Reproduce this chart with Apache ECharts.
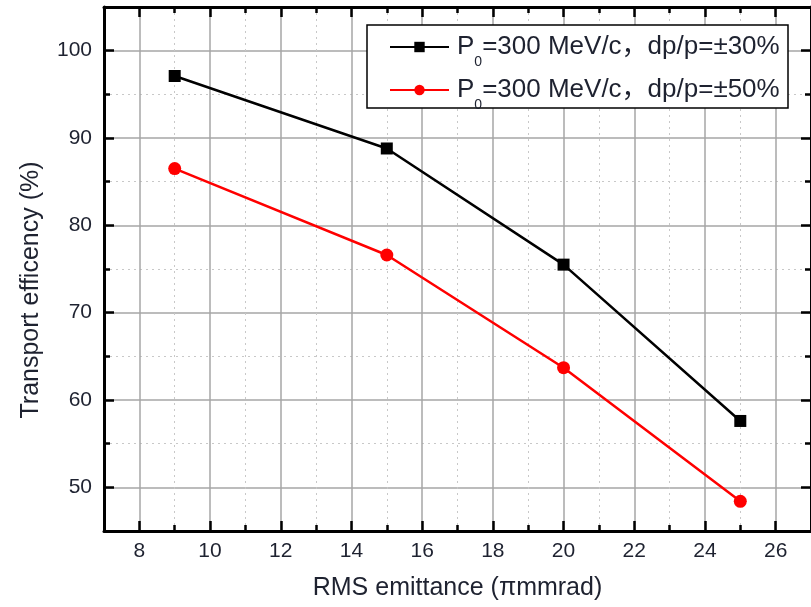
<!DOCTYPE html>
<html>
<head>
<meta charset="utf-8">
<script src="https://cdn.jsdelivr.net/npm/echarts@6/dist/echarts.min.js"></script>
<style>
  html, body { margin: 0; padding: 0; background: #fff; }
  #chart { width: 811px; height: 607px; }
</style>
</head>
<body>
<div id="chart"></div>
<script>
// Transport efficiency vs. RMS emittance for two momentum spreads
const emittance = [9, 15, 20, 25];
const eff30 = [97.1, 88.8, 75.5, 57.6];
const eff50 = [86.5, 76.6, 63.7, 48.4];

const xMajor = [8, 10, 12, 14, 16, 18, 20, 22, 24, 26];
const xMinor = [9, 11, 13, 15, 17, 19, 21, 23, 25];
const yMajor = [50, 60, 70, 80, 90, 100];
const yMinor = [55, 65, 75, 85, 95];

const seriesNames = ['P0 30', 'P0 50'];
const legendText = {
  'P0 30': '{a|P}{s|0}{a|=300 MeV/c，dp/p=±30%}',
  'P0 50': '{a|P}{s|0}{a|=300 MeV/c，dp/p=±50%}'
};

const FONT = '"Liberation Sans", Arial, "Noto Sans CJK SC", sans-serif';
const TEXT = '#1e2230';
const FRAME = { show: true, lineStyle: { color: '#000', width: 3 } };
const NOLINE = { show: false };

function ticks(values, len) {
  return {
    show: true, inside: true, length: len, customValues: values,
    lineStyle: { color: '#000', width: 2.5 }
  };
}

const majorSplit = { show: true, lineStyle: { color: '#a6a6a6', width: 1.5, type: 'solid' } };
const minorSplit = { show: true, lineStyle: { color: '#c8c8c8', width: 1, type: [2, 4] } };

const xBase = { type: 'value', min: 7, max: 27, gridIndex: 0 };
const yBase = { type: 'value', min: 45, max: 105, gridIndex: 0 };

const chart = echarts.init(document.getElementById('chart'), null, { renderer: 'canvas' });

chart.setOption({
  backgroundColor: '#fff',
  animation: false,
  grid: { left: 104, right: -3, top: 7, bottom: 76, containLabel: false },
  xAxis: [
    Object.assign({}, xBase, {
      position: 'bottom',
      axisLine: FRAME,
      axisTick: ticks(xMajor, 10),
      axisLabel: { show: true, customValues: xMajor, margin: 10, fontSize: 21, color: TEXT, fontFamily: FONT },
      splitLine: majorSplit,
      name: 'RMS emittance (πmmrad)',
      nameLocation: 'middle',
      nameGap: 45,
      nameTextStyle: { fontSize: 25, color: TEXT, fontFamily: FONT }
    }),
    Object.assign({}, xBase, {
      position: 'bottom',
      axisLine: NOLINE,
      axisTick: ticks(xMinor, 6),
      axisLabel: { show: false, customValues: xMinor },
      splitLine: minorSplit
    }),
    Object.assign({}, xBase, {
      position: 'top',
      axisLine: FRAME,
      axisTick: ticks(xMajor, 10),
      axisLabel: { show: false, customValues: xMajor },
      splitLine: { show: false }
    }),
    Object.assign({}, xBase, {
      position: 'top',
      axisLine: NOLINE,
      axisTick: ticks(xMinor, 6),
      axisLabel: { show: false, customValues: xMinor },
      splitLine: { show: false }
    })
  ],
  yAxis: [
    Object.assign({}, yBase, {
      position: 'left',
      axisLine: FRAME,
      axisTick: ticks(yMajor, 10),
      axisLabel: { show: true, customValues: yMajor, margin: 12, fontSize: 21, color: TEXT, fontFamily: FONT },
      splitLine: majorSplit,
      name: 'Transport efficency (%)',
      nameLocation: 'middle',
      nameGap: 60,
      nameTextStyle: { fontSize: 25, color: TEXT, fontFamily: FONT, padding: [0, 42, 0, 0] }
    }),
    Object.assign({}, yBase, {
      position: 'left',
      axisLine: NOLINE,
      axisTick: ticks(yMinor, 6),
      axisLabel: { show: false, customValues: yMinor },
      splitLine: minorSplit
    }),
    Object.assign({}, yBase, {
      position: 'right',
      axisLine: FRAME,
      axisTick: ticks(yMajor, 10),
      axisLabel: { show: false, customValues: yMajor },
      splitLine: { show: false }
    }),
    Object.assign({}, yBase, {
      position: 'right',
      axisLine: NOLINE,
      axisTick: ticks(yMinor, 6),
      axisLabel: { show: false, customValues: yMinor },
      splitLine: { show: false }
    })
  ],
  // legend frame
  graphic: [{
    type: 'rect',
    z: 3,
    shape: { x: 367, y: 25, width: 421, height: 83 },
    style: { fill: '#fff', stroke: '#000', lineWidth: 1.5 }
  }],
  legend: {
    orient: 'vertical',
    left: 389,
    top: 34,
    padding: 0,
    itemGap: 8,
    itemWidth: 59,
    itemHeight: 13,
    z: 5,
    data: seriesNames,
    formatter: function (name) { return legendText[name]; },
    textStyle: {
      color: TEXT,
      fontFamily: FONT,
      padding: [0, 0, 0, 3],
      rich: {
        a: { fontSize: 26, lineHeight: 44, color: TEXT, fontFamily: FONT },
        s: { fontSize: 14, lineHeight: 14, verticalAlign: 'bottom', color: TEXT, fontFamily: FONT }
      }
    }
  },
  series: [
    {
      name: seriesNames[0],
      type: 'line',
      xAxisIndex: 0,
      yAxisIndex: 0,
      data: emittance.map((x, i) => [x, eff30[i]]),
      symbol: 'rect',
      symbolSize: 12,
      lineStyle: { color: '#000', width: 2.5 },
      itemStyle: { color: '#000' },
      z: 4
    },
    {
      name: seriesNames[1],
      type: 'line',
      xAxisIndex: 0,
      yAxisIndex: 0,
      data: emittance.map((x, i) => [x, eff50[i]]),
      symbol: 'circle',
      symbolSize: 13,
      lineStyle: { color: '#ff0000', width: 2.5 },
      itemStyle: { color: '#ff0000' },
      z: 4
    }
  ]
});
</script>
</body>
</html>
